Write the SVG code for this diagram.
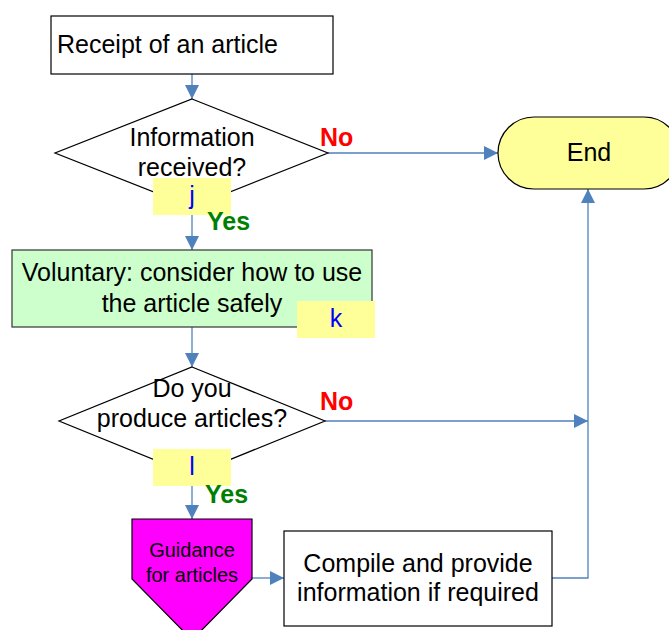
<svg xmlns="http://www.w3.org/2000/svg" width="669" height="630" viewBox="0 0 669 630">
<style>
.t{font-family:"Liberation Sans",Arial,sans-serif;font-size:25px;fill:#000;text-anchor:middle}
.s{stroke:#000;stroke-width:1.2}
.c{fill:none;stroke:#4f81bd;stroke-width:1.3}
.no{font-family:"Liberation Sans",Arial,sans-serif;font-size:25px;font-weight:bold;fill:#ff0000}
.yes{font-family:"Liberation Sans",Arial,sans-serif;font-size:25px;font-weight:bold;fill:#008000}
.lab{fill:#ffff99}
.lt{font-family:"Liberation Sans",Arial,sans-serif;font-size:25px;fill:#0000ff;text-anchor:middle}
</style>
<defs>
<marker id="ah" markerUnits="userSpaceOnUse" markerWidth="14" markerHeight="14" viewBox="0 0 14 14" refX="14" refY="7" orient="auto">
<path d="M0,0 L14,7 L0,14 Z" fill="#4f81bd"/>
</marker>
</defs>
<rect width="669" height="630" fill="#fff"/>
<g id="connectors">
<line class="c" x1="192" y1="74" x2="192" y2="99" marker-end="url(#ah)"/>
<line class="c" x1="328" y1="153" x2="498" y2="153" marker-end="url(#ah)"/>
<line class="c" x1="192" y1="207" x2="192" y2="250" marker-end="url(#ah)"/>
<line class="c" x1="192" y1="327" x2="192" y2="367" marker-end="url(#ah)"/>
<line class="c" x1="325" y1="421" x2="588" y2="421" marker-end="url(#ah)"/>
<line class="c" x1="192" y1="475" x2="192" y2="519" marker-end="url(#ah)"/>
<line class="c" x1="252" y1="578" x2="284" y2="578" marker-end="url(#ah)"/>
<polyline class="c" points="552,578 588,578 588,189" marker-end="url(#ah)"/>
</g>
<g id="receipt">
<rect class="s" x="51" y="16" width="282" height="58" fill="#fff"/>
<text class="t" x="57" y="53" style="text-anchor:start">Receipt of an article</text>
</g>
<g id="info-received">
<polygon class="s" points="192,99 328,153 192,207 55,153" fill="#fff"/>
<text class="t" x="192" y="146">Information</text>
<text class="t" x="192" y="176">received?</text>
</g>
<g id="end">
<rect class="s" x="498" y="117" width="182" height="72" rx="36" ry="36" fill="#ffff99"/>
<text class="t" x="589" y="161">End</text>
</g>
<g id="voluntary">
<rect x="12" y="250" width="360" height="77" fill="#ccffcc" stroke="#333" stroke-width="1.2"/>
<text class="t" x="192" y="281">Voluntary: consider how to use</text>
<text class="t" x="192" y="312">the article safely</text>
</g>
<g id="produce">
<polygon class="s" points="192,367 325,421 192,475 59,421" fill="#fff"/>
<text class="t" x="192" y="397">Do you</text>
<text class="t" x="192" y="427">produce articles?</text>
</g>
<g id="guidance">
<polygon class="s" points="132,519 252,519 252,579 192,640 132,579" fill="#ff00ff"/>
<text class="t" x="192" y="557" style="font-size:20px">Guidance</text>
<text class="t" x="192" y="582" style="font-size:20px">for articles</text>
</g>
<g id="compile">
<rect class="s" x="284" y="531" width="268" height="95" fill="#fff"/>
<text class="t" x="418" y="572">Compile and provide</text>
<text class="t" x="418" y="601">information if required</text>
</g>
<g id="label-j">
<rect class="lab" x="153" y="178" width="78" height="37"/>
<text class="lt" x="192" y="204">j</text>
</g>
<g id="label-k">
<rect class="lab" x="297" y="301" width="78" height="37"/>
<text class="lt" x="336" y="327">k</text>
</g>
<g id="label-l">
<rect class="lab" x="153" y="449" width="78" height="37"/>
<text class="lt" x="192" y="475">l</text>
</g>
<g id="branch-labels">
<text class="no" x="320" y="146">No</text>
<text class="yes" x="207" y="230">Yes</text>
<text class="no" x="320" y="410">No</text>
<text class="yes" x="205" y="503">Yes</text>
</g>
</svg>
